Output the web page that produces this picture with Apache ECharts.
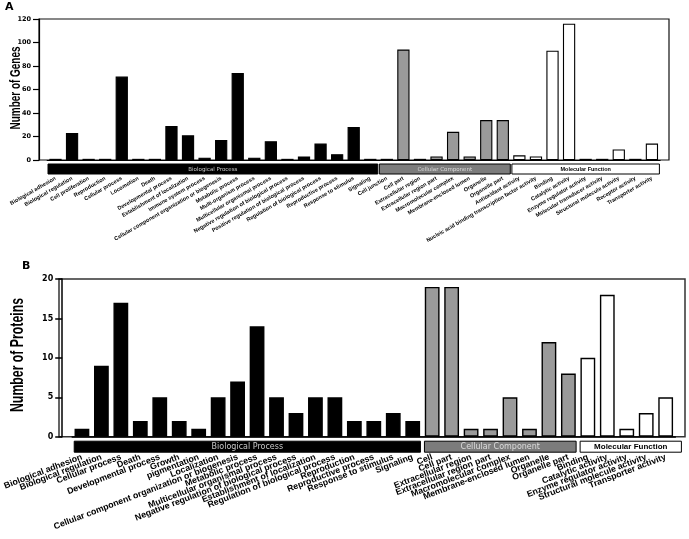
<!DOCTYPE html>
<html>
<head>
<meta charset="utf-8">
<script src="https://cdn.jsdelivr.net/npm/echarts@6/dist/echarts.min.js"></script>
<style>
html,body{margin:0;padding:0;background:#fff;}
#chart{width:689px;height:539px;}
</style>
</head>
<body>
<div id="chart"></div>
<script>
// ---------- Panel A data ----------
const catsA = [
  'Biological adhesion','Biological regulation','Cell proliferation','Reproduction','Cellular process',
  'Locomotion','Death','Developmental process','Establishment of localization','Immune system process',
  'Cellular component organization or biogenesis','Metabolic process','Multi-organism process',
  'Multicellular organismal process','Negative regulation of biological process',
  'Positive regulation of biological process','Regulation of biological process','Reproductive process',
  'Response to stimulus','Signaling',
  'Cell junction','Cell part','Extracellular region','Extracellular region part','Macromolecular complex',
  'Membrane-enclosed lumen','Organelle','Organelle part',
  'Antioxidant activity','Nucleic acid binding transcription factor activity','Binding','Catalytic activity',
  'Enzyme regulator activity','Molecular transducer activity','Structural molecule activity',
  'Receptor activity','Transporter activity'
];
const valsA = [1,23,1,1,71,1,1,29,21,2,17,74,2,16,1,3,14,5,28,1,
               1,94,1,3,24,3,34,34,
               4,3,93,116,1,1,9,1,14];
const groupNames = ['Biological Process','Cellular Component','Molecular Function'];
const groupsA = [[0,19],[20,27],[28,36]];
const ticksA = [0,20,40,60,80,100,120];
const titleA = 'Number of Genes';

// ---------- Panel B data ----------
const catsB = [
  'Biological adhesion','Biological regulation','Cellular process','Death','Developmental process',
  'Growth','pigmentation','Localization','Cellular component organization or biogenesis',
  'Metabolic process','Multicellular organismal process','Negative regulation of biological process',
  'Establishment of localization','Regulation of biological process','Reproduction',
  'Reproductive process','Response to stimulus','Signaling',
  'Cell','Cell part','Extracellular region','Extracellular region part','Macromolecular complex',
  'Membrane-enclosed lumen','Organelle','Organelle part',
  'Binding','Catalytic activity','Enzyme regulator activity','Structural molecule activity','Transporter activity'
];
const valsB = [1,9,17,2,5,2,1,5,7,14,5,3,5,5,2,2,3,2,
               19,19,1,1,5,1,12,8,
               10,18,1,3,5];
const groupsB = [[0,17],[18,25],[26,30]];
const ticksB = [0,5,10,15,20];
const titleB = 'Number of Proteins';

const barFill = ['#000000','#9a9a9a','#ffffff'];
const groupFill = ['#000000','#7c7c7c','#ffffff'];
const groupText = ['#c8c8c8','#dcdcdc','#000000'];

function groupOf(groups, i){
  for (let g=0; g<groups.length; g++) if (i>=groups[g][0] && i<=groups[g][1]) return g;
  return 0;
}

function groupSeries(groups, axisIdx, cfg){
  return {
    type:'custom', xAxisIndex:axisIdx, yAxisIndex:axisIdx, clip:false, silent:true, z:5,
    encode:{x:[0,2], y:1},
    data: groups.map((g,k)=>[g[0],0,g[1],k]),
    renderItem: function(params, api){
      const cs = params.coordSys;
      const bw = api.size([1,0])[0];
      const p0 = api.coord([api.value(0),0]);
      const p1 = api.coord([api.value(2),0]);
      const k = api.value(3);
      const x0 = p0[0]-bw/2+cfg.inset;
      const x1 = p1[0]+bw/2-cfg.inset + (k===2?cfg.lastExtra:0);
      const y0 = cs.y+cs.height+cfg.gap;
      return {
        type:'group',
        children:[
          {type:'rect', shape:{x:x0,y:y0,width:x1-x0,height:cfg.h},
           style:{fill:groupFill[k], stroke:'#000', lineWidth:1}},
          {type:'text', style:{text:groupNames[k], x:(x0+x1)/2, y:y0+cfg.h/2+0.5,
             align:'center', verticalAlign:'middle', fill:groupText[k],
             font: (k===2?'bold ':'') + cfg.fs + 'px ' + (k===2?'Liberation Sans, Arial':'DejaVu Sans')}}
        ]
      };
    }
  };
}

// condensed vertical axis titles: measure then squeeze along the text direction
const mctx = document.createElement('canvas').getContext('2d');
function squeezed(text, font, targetLen, cx, cy){
  mctx.font = font;
  const w = mctx.measureText(text).width;
  return {type:'text', x:cx, y:cy, rotation:Math.PI/2, scaleX:targetLen/w, scaleY:1, silent:true,
          style:{text:text, font:font, fill:'#000', align:'center', verticalAlign:'middle'}};
}

const chart = echarts.init(document.getElementById('chart'), null, {renderer:'canvas'});
chart.setOption({
  animation:false,
  backgroundColor:'#fff',
  title:[
    {text:'A', left:5, top:2, padding:0, textStyle:{fontSize:11, fontWeight:'900', fontFamily:'DejaVu Sans', color:'#000'}},
    {text:'B', left:22, top:261, padding:0, textStyle:{fontSize:11, fontWeight:'900', fontFamily:'DejaVu Sans', color:'#000'}}
  ],
  graphic:[
    squeezed(titleA, 'bold 15px Liberation Sans, Arial', 83, 16, 88),
    squeezed(titleB, 'bold 18px Liberation Sans, Arial', 114, 18.5, 355)
  ],
  grid:[
    {left:47.2, top:19, width:613, height:141},
    {left:39, top:19, width:630, height:141, show:true, borderColor:'#111', borderWidth:1.2, backgroundColor:'transparent'},
    {left:69, top:279, width:606.4, height:157.7},
    {left:59, top:279, width:626, height:157.7, show:true, borderColor:'#333', borderWidth:1.5, backgroundColor:'transparent'}
  ],
  xAxis:[
    {type:'category', gridIndex:0, data:catsA,
     axisLine:{lineStyle:{color:'#000', width:1.2}},
     axisTick:{alignWithLabel:true, interval:0, length:18, lineStyle:{color:'#000', width:1}},
     axisLabel:{interval:0, rotate:30, margin:18, fontSize:5.5, fontWeight:'bold',
                fontFamily:'Liberation Sans, Arial', color:'#000'}},
    {type:'category', gridIndex:1, show:false, data:[]},
    {type:'category', gridIndex:2, data:catsB,
     axisLine:{lineStyle:{color:'#000', width:1.5}},
     axisTick:{alignWithLabel:true, interval:0, length:21, lineStyle:{color:'#000', width:1.2}},
     axisLabel:{interval:0, rotate:21, margin:20, fontSize:8.8, fontWeight:'bold',
                fontFamily:'Liberation Sans, Arial', color:'#000'}},
    {type:'category', gridIndex:3, show:false, data:[]}
  ],
  yAxis:[
    {type:'value', gridIndex:0, min:ticksA[0], max:ticksA[ticksA.length-1], interval:20, offset:8.2,
     splitLine:{show:false},
     axisLine:{show:true, lineStyle:{color:'#000', width:1.2}},
     axisTick:{show:true, length:6, lineStyle:{color:'#000', width:1.2}},
     axisLabel:{margin:8, fontSize:6.5, fontWeight:'bold', fontFamily:'DejaVu Sans', color:'#000'}},
    {type:'value', gridIndex:1, show:false, min:0, max:1, splitLine:{show:false}},
    {type:'value', gridIndex:2, min:ticksB[0], max:ticksB[ticksB.length-1], interval:5, offset:10,
     splitLine:{show:false},
     axisLine:{show:true, lineStyle:{color:'#000', width:1.5}},
     axisTick:{show:true, length:7, lineStyle:{color:'#000', width:1.5}},
     axisLabel:{margin:9, fontSize:8, fontWeight:'bold', fontFamily:'DejaVu Sans', color:'#000'}},
    {type:'value', gridIndex:3, show:false, min:0, max:1, splitLine:{show:false}}
  ],
  series:[
    {type:'bar', xAxisIndex:0, yAxisIndex:0, data:valsA, barWidth:'74%', z:3,
     itemStyle:{borderColor:'#000', borderWidth:1.1,
       color:function(p){return barFill[groupOf(groupsA,p.dataIndex)];}}},
    {type:'bar', xAxisIndex:2, yAxisIndex:2, data:valsB, barWidth:'76%', z:3,
     itemStyle:{borderColor:'#000', borderWidth:1.4,
       color:function(p){return barFill[groupOf(groupsB,p.dataIndex)];}}},
    groupSeries(groupsA, 0, {inset:0.8, gap:4, h:10, fs:5.5, lastExtra:0}),
    groupSeries(groupsB, 2, {inset:2, gap:4.5, h:11, fs:8, lastExtra:8})
  ]
});
</script>
</body>
</html>
